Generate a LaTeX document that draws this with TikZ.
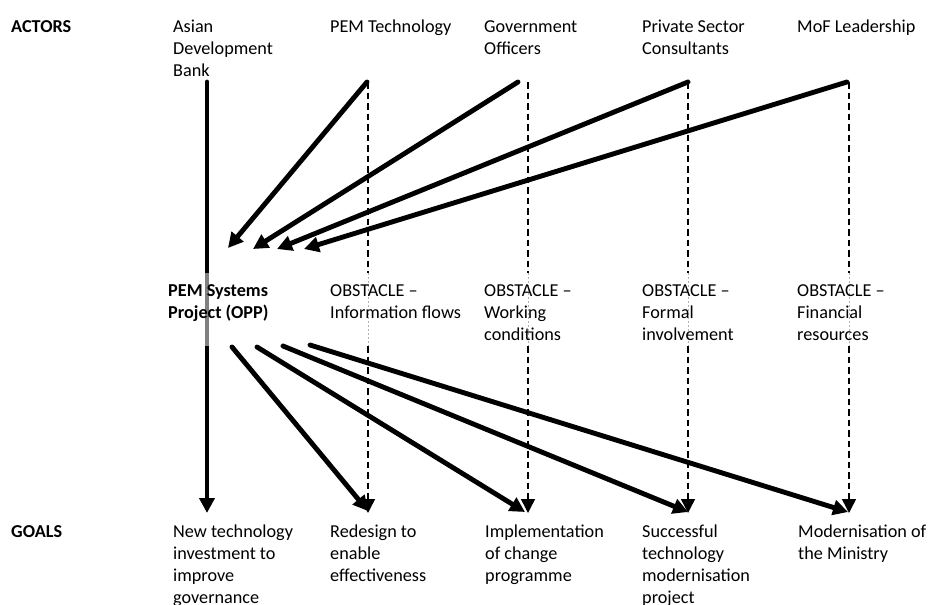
\documentclass[tikz,border=0pt]{standalone}
\usepackage{fontspec}
\setmainfont{Carlito}
\usetikzlibrary{arrows.meta}
\begin{document}
\begin{tikzpicture}[x=1pt,y=-1pt,
  txt/.style={font=\fontsize{18.2}{22}\selectfont, anchor=north west, inner sep=0pt, align=left},
  hdr/.style={txt, font=\fontsize{18.2}{22}\selectfont\bfseries},
  thick arrow/.style={line width=4.9pt, line cap=round, -{Triangle[length=15pt,width=15pt]}},
  dash arrow/.style={line width=1.5pt, dash pattern=on 6.5pt off 4pt, -{Triangle[length=14pt,width=14pt]}},
  dash line/.style={line width=1.5pt, dash pattern=on 6.5pt off 4pt},
  faint line/.style={line width=0.8pt, gray!60, dash pattern=on 2pt off 2pt}
]
\useasboundingbox (0,0) rectangle (930,605);

% headers
\node[hdr] (actors) at (11,16.6) {\strut ACTORS};
\node[hdr] (goals) at (11,521.6) {\strut GOALS};

% actors
\node[txt] (adb) at (173,16.6) {\strut Asian\\Development\\Bank};
\node[txt] (pemt) at (330,16.6) {\strut PEM Technology};
\node[txt] (gov) at (484,16.6) {\strut Government\\Officers};
\node[txt] (psc) at (642,16.6) {\strut Private Sector\\Consultants};
\node[txt] (mof) at (797,16.6) {\strut MoF Leadership};

% goals
\node[txt] (g1) at (173,521.6) {\strut New technology\\investment to\\improve\\governance};
\node[txt] (g2) at (330,521.6) {\strut Redesign to\\enable\\effectiveness};
\node[txt] (g3) at (485,521.6) {\strut Implementation\\of change\\programme};
\node[txt] (g4) at (642,521.6) {\strut Successful\\technology\\modernisation\\project};
\node[txt] (g5) at (798,521.6) {\strut Modernisation of\\the Ministry};

% coordinates
\coordinate (adbS) at (207,82);
\coordinate (adbG1) at (207,273);
\coordinate (adbG2) at (207,346);
\coordinate (adbE) at (207,513);

\coordinate (pemtS) at (367,82);
\coordinate (govS) at (518,82);
\coordinate (pscS) at (688,82);
\coordinate (mofS) at (847,82);

\coordinate (in1) at (228,248);
\coordinate (in2) at (253,249);
\coordinate (in3) at (277,249);
\coordinate (in4) at (304,249);

\coordinate (out1) at (232,347);
\coordinate (out2) at (257,347);
\coordinate (out3) at (283,346);
\coordinate (out4) at (310,345);

\coordinate (g2T) at (368,511);
\coordinate (g3T) at (525,512);
\coordinate (g4T) at (688,512);
\coordinate (g5T) at (848,512);

% dashed verticals
\foreach \n/\x in {a/368, b/528, c/688, d/849}{
  \coordinate (d\n top) at (\x,82);
  \coordinate (d\n m1) at (\x,273);
  \coordinate (d\n m2) at (\x,346);
  \coordinate (d\n end) at (\x,513);
  \draw[dash line] (d\n top) -- (d\n m1);
  \draw[faint line] (d\n m1) -- (d\n m2);
  \draw[dash arrow] (d\n m2) -- (d\n end);
}

% vertical ADB arrow
\draw[thick arrow] (adbS) -- (adbE);
\draw[line width=4.9pt, black!50] (adbG1) -- (adbG2);

% actors to project
\draw[thick arrow] (pemtS) -- (in1);
\draw[thick arrow] (govS) -- (in2);
\draw[thick arrow] (pscS) -- (in3);
\draw[thick arrow] (mofS) -- (in4);

% project to goals
\draw[thick arrow] (out1) -- (g2T);
\draw[thick arrow] (out2) -- (g3T);
\draw[thick arrow] (out3) -- (g4T);
\draw[thick arrow] (out4) -- (g5T);

% project and obstacles
\node[hdr] (opp) at (168,280.6) {\strut PEM Systems\\Project (OPP)};
\node[txt] (o1) at (330,280.6) {\strut OBSTACLE --\\Information flows};
\node[txt] (o2) at (484,280.6) {\strut OBSTACLE --\\Working\\conditions};
\node[txt] (o3) at (642,280.6) {\strut OBSTACLE --\\Formal\\involvement};
\node[txt] (o4) at (797,280.6) {\strut OBSTACLE --\\Financial\\resources};
\end{tikzpicture}
\end{document}
